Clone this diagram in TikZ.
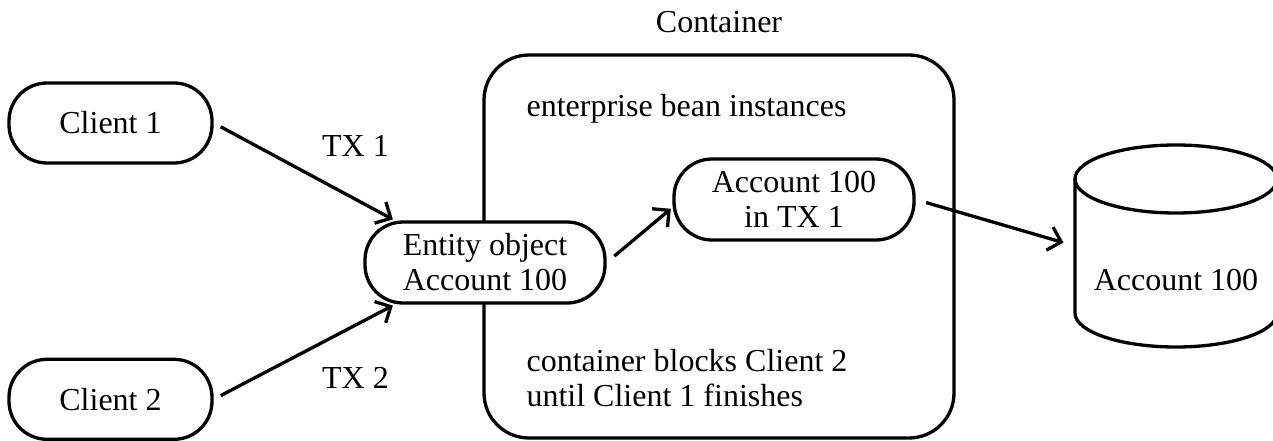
\documentclass[tikz,border=0pt]{standalone}
\usepackage{fontspec}
\setmainfont{Liberation Serif}
\usetikzlibrary{arrows.meta, positioning}
\tikzstyle{pill} = [rectangle, rounded corners=38pt, minimum width=240pt, minimum height=81pt, align=center, draw=black, line width=3.3pt, fill=white]
\tikzstyle{client} = [pill, minimum width=203pt, minimum height=80pt]
\tikzstyle{container} = [rectangle, rounded corners=45pt, minimum width=470pt, minimum height=383pt, draw=black, line width=3.3pt]
\tikzstyle{drum} = [draw=black, line width=3.3pt]
\tikzstyle{note} = [align=left, inner sep=0pt]
\tikzstyle{arrow} = [line width=3.3pt, -{Straight Barb[length=12pt, width=24pt]}, shorten <=8pt, shorten >=2pt]

\begin{document}
\begin{tikzpicture}[x=1pt, y=-1pt, font=\fontsize{32}{35}\selectfont]
\useasboundingbox (0,0) rectangle (1273,441);

% Clients
\node (client1) [client] at (110.5,123) {Client 1};
\node (client2) [client, below=193pt of client1] {Client 2};

% Container
\node (container) [container] at (719,246.5) {};
\node (containertitle) [above=17pt of container] {Container};
\node (beans) [note, below right=41pt and 44pt of container.north west] {enterprise bean instances};
\node (blocks) [note, above right=33pt and 44pt of container.south west] {container blocks Client 2\\until Client 1 finishes};

% Bean instances
\node (entity) [pill] at (485,262.5) {Entity object\\Account 100};
\node (tx1) [pill] at (794,199.5) {Account 100\\in TX 1};

% Database
\node (db) at (1176,280) {Account 100};
\coordinate (dbleft) at (1075,246);
\draw [drum] (1075,179) -- (1075,313) arc [start angle=180, end angle=0, x radius=101, y radius=34] -- (1277,179);
\draw [drum] (1176,179) ellipse [x radius=101, y radius=34];

% Arrows
\draw [arrow] (client1.east) -- (entity.155) node [pos=0.5, above right, xshift=13pt, yshift=10pt] (tx1label) {TX 1};
\draw [arrow] (client2.east) -- (entity.205) node [pos=0.5, below right, xshift=13pt, yshift=-10pt] (tx2label) {TX 2};
\draw [arrow, shorten <=10pt] (entity.east) -- ([yshift=-8pt]tx1.west);
\draw [arrow, shorten <=11pt, shorten >=12pt] (tx1.east) -- (dbleft);

\end{tikzpicture}
\end{document}
